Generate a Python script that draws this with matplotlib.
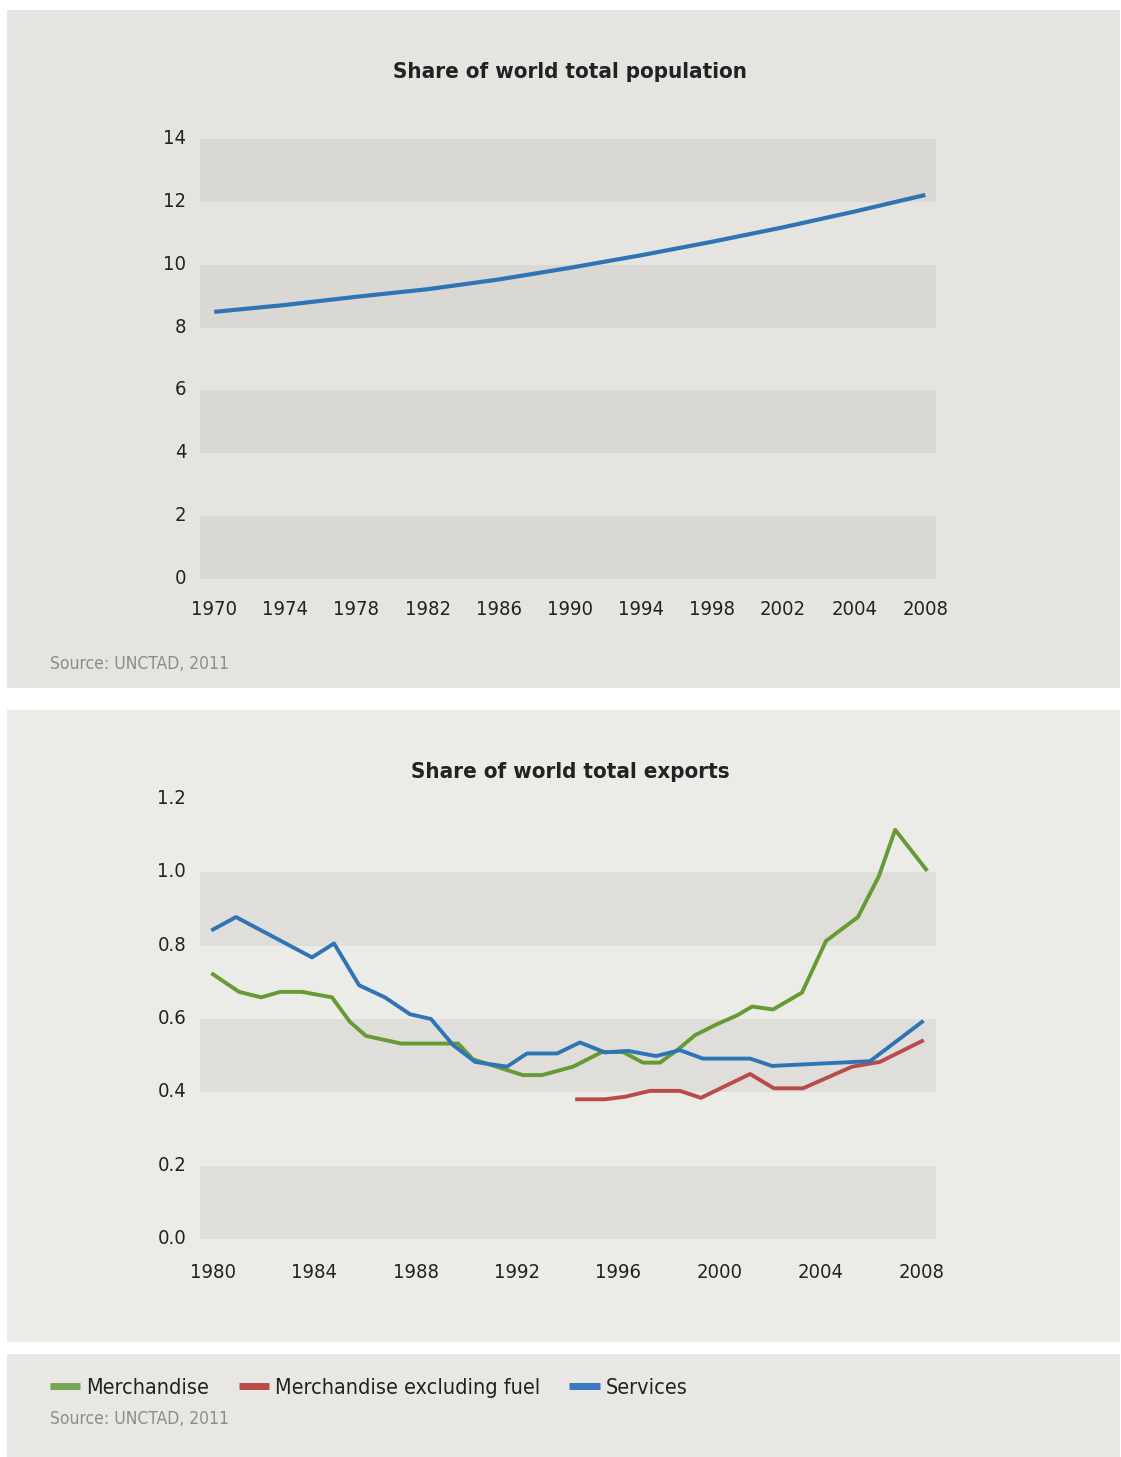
import matplotlib.pyplot as plt
from matplotlib.patches import Rectangle
from matplotlib.lines import Line2D
from matplotlib import font_manager
from matplotlib.transforms import ScaledTranslation

# top chart: population share
popLabels = ['1970', '1974', '1978', '1982', '1986', '1990', '1994', '1998', '2002', '2004', '2008']
popValues = [8.5, 8.72, 8.98, 9.22, 9.53, 9.9, 10.3, 10.73, 11.19, 11.69, 12.22]

merchYears = [1980.0, 1981.03, 1981.9, 1982.65, 1983.52, 1984.7, 1985.41, 1986.04, 1987.43, 1989.68,
              1990.27, 1992.24, 1992.99, 1994.22, 1995.36, 1996.19, 1996.98, 1997.65, 1998.33, 1999.04,
              1999.91, 2000.7, 2001.29, 2002.12, 2003.26, 2004.21, 2005.47, 2006.3, 2006.94, 2008.16]
merchValues = [0.722, 0.674, 0.659, 0.674, 0.674, 0.659, 0.592, 0.554, 0.533, 0.533,
               0.49, 0.447, 0.447, 0.47, 0.51, 0.51, 0.481, 0.481, 0.515, 0.556,
               0.586, 0.61, 0.634, 0.626, 0.672, 0.813, 0.878, 0.99, 1.116, 1.008]

exFuelYears = [1994.38, 1995.48, 1996.27, 1997.26, 1998.44, 1999.27, 2001.21, 2002.15, 2003.3, 2005.24, 2006.34, 2008.0]
exFuelValues = [0.381, 0.381, 0.388, 0.404, 0.404, 0.385, 0.45, 0.411, 0.411, 0.47, 0.483, 0.54]

servYears = [1980.0, 1980.91, 1983.91, 1984.78, 1985.77, 1986.79, 1987.78, 1988.61, 1989.48, 1990.35,
             1991.61, 1992.4, 1993.59, 1994.49, 1995.48, 1996.39, 1997.5, 1998.44, 1999.35, 2001.21,
             2002.08, 2005.95, 2008.0]
servValues = [0.844, 0.878, 0.768, 0.806, 0.692, 0.659, 0.613, 0.6, 0.529, 0.483,
              0.47, 0.506, 0.506, 0.536, 0.509, 0.513, 0.499, 0.515, 0.492, 0.492,
              0.472, 0.485, 0.592]

exportTicks = [1980, 1984, 1988, 1992, 1996, 2000, 2004, 2008]

GREEN = '#669a33'
RED = '#b94c4a'
BLUE = '#2f75b5'

# look for a narrow face, else fall back to DejaVu
names = set(f.name for f in font_manager.fontManager.ttflist)
narrow = [n for n in ['Liberation Sans Narrow', 'DejaVu Sans Condensed'] if n in names]
plt.rcParams['font.family'] = narrow + ['DejaVu Sans']
plt.rcParams['font.stretch'] = 'condensed'

W, H = 1121, 1457
fig = plt.figure(figsize=(W / 100, H / 100), dpi=100, facecolor='white')


def panel(top, bottom, color):
	fig.patches.append(Rectangle((7 / W, 1 - bottom / H), (1120 - 7) / W, (bottom - top) / H,
	                             transform=fig.transFigure, facecolor=color, edgecolor='none', zorder=-10))


def pixAxes(left, top, right, bottom):
	ax = fig.add_axes([left / W, 1 - bottom / H, (right - left) / W, (bottom - top) / H])
	ax.patch.set_alpha(0)
	for s in ax.spines.values():
		s.set_visible(False)
	ax.tick_params(length=0, labelsize=14.5, colors='#222222')
	ax.tick_params(axis='x', pad=15)
	ax.tick_params(axis='y', pad=10)
	return ax


def liftYLabels(ax):
	# y labels sit a few pixels above their value
	for t in ax.get_yticklabels():
		t.set_transform(t.get_transform() + ScaledTranslation(0, 2.5 / 100, fig.dpi_scale_trans))


panel(10, 688, '#e5e4e1')
panel(710, 1342, '#ebebe8')
panel(1354, 1457, '#e8e7e4')

# population chart
ax1 = pixAxes(200, 139, 936, 579)
for lo in [0, 4, 8, 12]:
	ax1.axhspan(lo, lo + 2, color='#d9d8d5', lw=0, zorder=0)
ax1.plot(range(len(popValues)), popValues, color=BLUE, lw=3, solid_capstyle='butt')
ax1.set_ylim(0, 14)
ax1.set_yticks(range(0, 15, 2))
ax1.set_xlim(-0.2, 10.15)
ax1.set_xticks(range(len(popLabels)))
ax1.set_xticklabels(popLabels)
liftYLabels(ax1)
fig.text(570 / W, 1 - 72 / H, 'Share of world total population', fontsize=16, fontweight='bold',
         color='#222222', ha='center', va='center')
fig.text(50 / W, 1 - 664 / H, 'Source: UNCTAD, 2011', fontsize=12.5, color='#8c8c8c', va='center')

# exports chart
ax2 = pixAxes(200, 799, 936, 1239)
for lo in [0, 0.4, 0.8]:
	ax2.axhspan(lo, lo + 0.2, color='#dfdedb', lw=0, zorder=0)
ax2.plot(merchYears, merchValues, color=GREEN, lw=2.8, label='Merchandise')
ax2.plot(exFuelYears, exFuelValues, color=RED, lw=2.8, label='Merchandise excluding fuel')
ax2.plot(servYears, servValues, color=BLUE, lw=2.8, label='Services')
ax2.set_ylim(0, 1.2)
ax2.set_yticks([0, 0.2, 0.4, 0.6, 0.8, 1.0, 1.2])
ax2.set_yticklabels(['0.0', '0.2', '0.4', '0.6', '0.8', '1.0', '1.2'])
ax2.set_xlim(1980 - 13 / 25.32, 2008 + 14 / 25.32)
ax2.set_xticks(exportTicks)
ax2.tick_params(axis='x', pad=17)
liftYLabels(ax2)
fig.text(570 / W, 1 - 772 / H, 'Share of world total exports', fontsize=16, fontweight='bold',
         color='#222222', ha='center', va='center')

handles = [Line2D([], [], color='#76a655', lw=5, solid_capstyle='butt'),
           Line2D([], [], color=RED, lw=5, solid_capstyle='butt'),
           Line2D([], [], color='#3a7abd', lw=5, solid_capstyle='butt')]
fig.legend(handles, ['Merchandise', 'Merchandise excluding fuel', 'Services'], ncol=3, frameon=False,
           loc='center left', bbox_to_anchor=(50 / W, 1 - 1388 / H), fontsize=15.5, handlelength=1.4,
           handletextpad=0.3, columnspacing=1.35, borderpad=0, borderaxespad=0, labelcolor='#222222')
fig.text(50 / W, 1 - 1419 / H, 'Source: UNCTAD, 2011', fontsize=12.5, color='#8c8c8c', va='center')

fig.savefig('out.png', dpi=100, facecolor='white')
